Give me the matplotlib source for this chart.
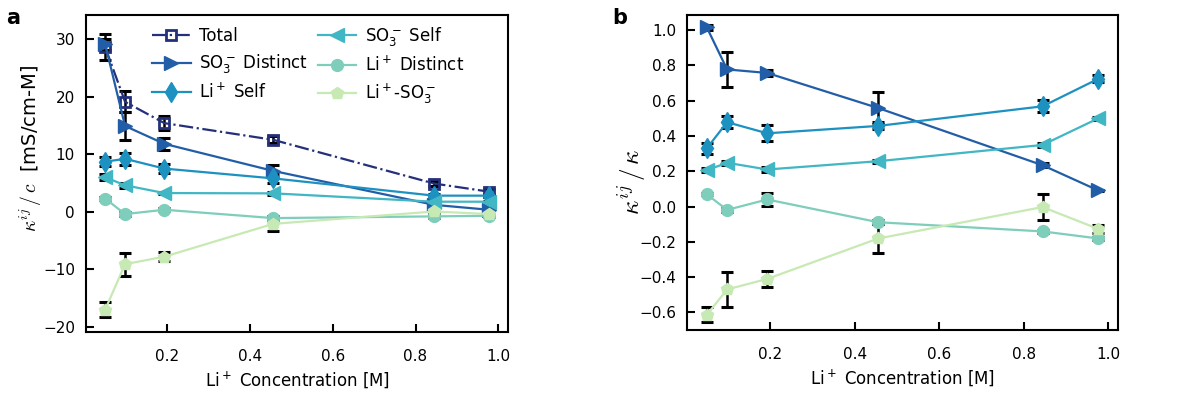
import numpy as np
import matplotlib
matplotlib.use('Agg')
from matplotlib import pyplot as plt

# Li+ concentration of each simulation
conc = [0.05, 0.098, 0.193, 0.456, 0.845, 0.977]

labels = ['Total', 'SO$_3^-$ Distinct', 'Li$^+$ Self', 'SO$_3^-$ Self',
          'Li$^+$ Distinct', 'Li$^+$-SO$_3^-$']

# molar conductivity contributions, kappa_ij / c  [mS/cm-M]
total = [28.6, 19.1, 15.4, 12.5, 4.9, 3.5]
total_err = [2.3, 1.8, 1.2, 0.6, 0.5, 0.5]
so3_distinct = [29.1, 14.9, 11.8, 7.1, 1.2, 0.35]
so3_distinct_err = [1.0, 2.4, 1.1, 1.1, 0.4, 0.3]
li_self = [8.7, 9.2, 7.5, 5.8, 2.8, 2.8]
li_self_err = [0.8, 1.0, 0.8, 0.8, 0.3, 0.3]
so3_self = [6.0, 4.6, 3.25, 3.2, 1.75, 1.75]
so3_self_err = [0.5, 0.4, 0.2, 0.2, 0.1, 0.1]
li_distinct = [2.3, -0.4, 0.35, -1.1, -0.8, -0.7]
li_distinct_err = [0.3, 0.4, 0.3, 0.3, 0.2, 0.2]
li_so3 = [-17.0, -9.1, -7.8, -2.1, 0.05, -0.4]
li_so3_err = [1.35, 2.0, 0.8, 1.2, 0.3, 0.3]

# fraction of the total conductivity, kappa_ij / kappa
so3_distinct_frac = [1.015, 0.777, 0.757, 0.558, 0.234, 0.091]
so3_distinct_frac_err = [0.012, 0.10, 0.018, 0.09, 0.012, 0.005]
li_self_frac = [0.33, 0.478, 0.415, 0.457, 0.568, 0.724]
li_self_frac_err = [0.03, 0.035, 0.045, 0.02, 0.035, 0.02]
so3_self_frac = [0.206, 0.248, 0.21, 0.257, 0.349, 0.50]
so3_self_frac_err = [0.01, 0.01, 0.012, 0.008, 0.01, 0.01]
li_distinct_frac = [0.069, -0.019, 0.04, -0.089, -0.141, -0.181]
li_distinct_frac_err = [0.005, 0.012, 0.035, 0.01, 0.01, 0.01]
li_so3_frac = [-0.613, -0.47, -0.41, -0.181, -0.003, -0.127]
li_so3_frac_err = [0.043, 0.10, 0.045, 0.08, 0.075, 0.025]

colors = ['#24307a', '#225ea8', '#1d91c0', '#41b6c4', '#7fcdbb', '#c7e9b4']
markers = ['s', '>', 'd', '<', 'o', 'p']
msizes = [7, 10, 10, 10, 8.5, 9]

fig = plt.figure(figsize=(11.88, 4.03), dpi=100)
ax1 = fig.add_axes([0.0724, 0.176, 0.3552, 0.787])
ax2 = fig.add_axes([0.5785, 0.181, 0.3625, 0.782])


def draw(ax, series, errs, cols, marks, sizes, names):
    for y, e, c, m, s, name in zip(series, errs, cols, marks, sizes, names):
        ax.errorbar(conc, y, yerr=e, fmt='none', ecolor='k', elinewidth=1.8,
                    capsize=4, capthick=2.2, zorder=2)
        if name == 'Total':
            ax.plot(conc, y, '-.', color=c, marker=m, ms=s, mfc='none', mew=2,
                    lw=1.6, label=name, zorder=3)
        else:
            ax.plot(conc, y, '-', color=c, marker=m, ms=s, lw=1.6, label=name,
                    zorder=3)


draw(ax1,
     [total, so3_distinct, li_self, so3_self, li_distinct, li_so3],
     [total_err, so3_distinct_err, li_self_err, so3_self_err, li_distinct_err, li_so3_err],
     colors, markers, msizes, labels)
draw(ax2,
     [so3_distinct_frac, li_self_frac, so3_self_frac, li_distinct_frac, li_so3_frac],
     [so3_distinct_frac_err, li_self_frac_err, so3_self_frac_err, li_distinct_frac_err, li_so3_frac_err],
     colors[1:], markers[1:], msizes[1:], labels[1:])

ax1.set_ylim(-20.9, 34.2)
ax2.set_ylim(-0.70, 1.086)
ax1.set_yticks([-20, -10, 0, 10, 20, 30])
ax2.set_yticks([-0.6, -0.4, -0.2, 0.0, 0.2, 0.4, 0.6, 0.8, 1.0])

for ax in (ax1, ax2):
    ax.set_xticks([0.2, 0.4, 0.6, 0.8, 1.0])
    ax.tick_params(direction='in', length=6, width=1.5, labelsize=11, pad=8)
    ax.tick_params(axis='x', pad=12)
    for sp in ax.spines.values():
        sp.set_linewidth(1.5)
    ax.set_xlabel('Li$^+$ Concentration [M]', fontsize=12)

ax1.set_ylabel(r'$\kappa^{ij}\,/\,c$  [mS/cm-M]', fontsize=14, math_fontfamily='cm')
ax1.yaxis.set_label_coords(-0.1, 0.58)
ax2.set_ylabel(r'$\kappa^{ij}\,/\,\kappa$', fontsize=18, math_fontfamily='cm')
ax2.yaxis.set_label_coords(-0.09, 0.47)

ax1.legend(loc='upper center', bbox_to_anchor=(0.526, 1.016), ncol=2, frameon=False,
           fontsize=12, handlelength=2.3, handletextpad=0.5, columnspacing=0.6,
           labelspacing=0.45)

fig.text(0.005, 0.94, 'a', fontsize=15, fontweight='bold')
fig.text(0.515, 0.94, 'b', fontsize=15, fontweight='bold')

plt.savefig('out.png')
